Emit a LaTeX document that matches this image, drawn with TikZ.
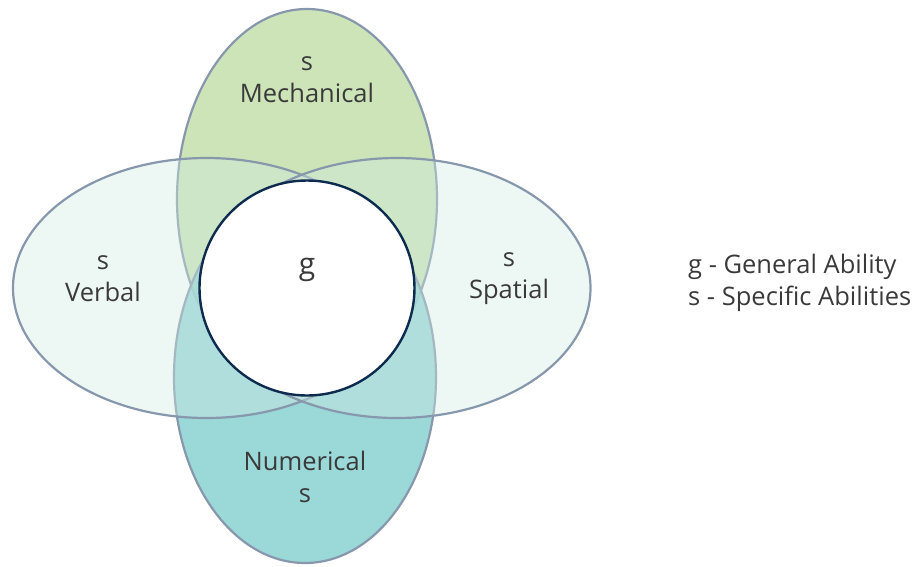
\documentclass[tikz,border=0pt]{standalone}
\usepackage{fontspec}
\setmainfont{Open Sans}
\definecolor{edgecol}{HTML}{8797AC}
\definecolor{ringcol}{HTML}{0D2B4E}
\definecolor{greenfill}{HTML}{CDE4B8}
\definecolor{tealfill}{HTML}{89D1D1}
\definecolor{lightfill}{HTML}{D1EAE1}
\definecolor{txtcol}{HTML}{3A3A3A}
\tikzset{
  lobe/.style={draw=edgecol, line width=2.2pt},
  lbl/.style={text=txtcol, font=\fontsize{25.5}{32}\selectfont, align=center, inner sep=0pt},
}
\begin{document}
\begin{tikzpicture}[x=1pt,y=-1pt]
\useasboundingbox (0,0) rectangle (919,566);
% top (Mechanical)
\draw[lobe, fill=greenfill] (307,199) ellipse [x radius=130pt, y radius=190pt];
% bottom (Numerical)
\draw[lobe, fill=tealfill, fill opacity=0.85] (305,377) ellipse [x radius=131pt, y radius=186pt];
% left (Verbal)
\draw[lobe, fill=lightfill, fill opacity=0.4] (206.5,288) ellipse [x radius=193.5pt, y radius=130pt];
% right (Spatial)
\draw[lobe, fill=lightfill, fill opacity=0.4] (397,288) ellipse [x radius=193.5pt, y radius=130pt];
% centre circle
\node[circle, draw=ringcol, fill=white, line width=2.4pt, minimum size=215pt, inner sep=0pt] (g) at (307,288) {};
\node[lbl, font=\fontsize{30}{36}\selectfont] (gl) at (307,270) {g};
\node[lbl] (mech) at (307,80) {s\\Mechanical};
\node[lbl] (verb) at (103,279) {s\\Verbal};
\node[lbl] (spat) at (509,279) {s\\Spatial};
\node[lbl] (num) at (305,477) {Numerical\\s};
\node[lbl, align=left, anchor=west] (legend) at (688,283) {g - General Ability\\s - Specific Abilities};
\end{tikzpicture}
\end{document}
